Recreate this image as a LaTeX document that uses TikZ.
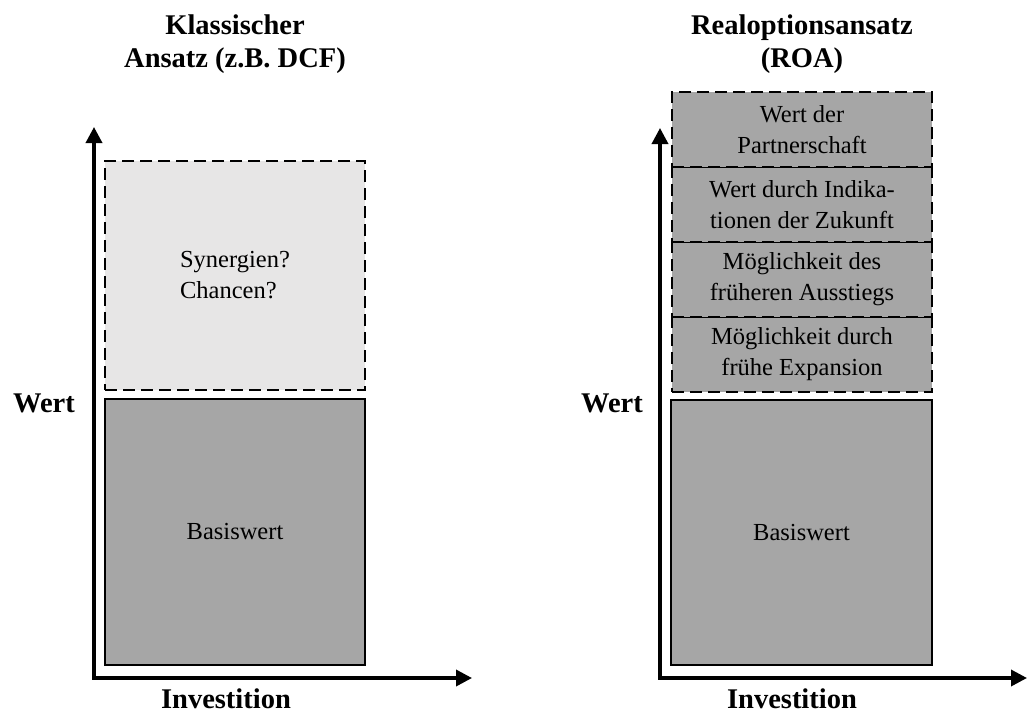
\documentclass[tikz,border=0pt]{standalone}
\usepackage{fontspec}
\setmainfont{Liberation Serif}
\usetikzlibrary{positioning, arrows.meta}
\definecolor{basisgrau}{HTML}{A6A6A6}
\definecolor{hellgrau}{HTML}{E7E6E6}

\begin{document}
\begin{tikzpicture}[%
        x=1pt, y=-1pt,
        every node/.style={inner sep=0pt, outer sep=0pt},
        wertbox/.style={rectangle, draw, line width=2.8pt, fill=basisgrau, minimum width=260pt,
            font=\fontsize{24.5}{31}\selectfont, align=center},
        optionbox/.style={wertbox, dash pattern=on 12pt off 6pt, minimum height=75pt},
        achse/.style={line width=3.5pt, {Triangle[length=16pt,width=16pt]}-{Triangle[length=16pt,width=16pt]}},
        beschriftung/.style={font=\fontsize{28.5}{33}\selectfont\bfseries, align=center}
    ]
    \useasboundingbox (0,0) rectangle (1029,715);

    % --- Klassischer Ansatz ---
    \coordinate (y1) at (94,127);
    \coordinate (o1) at (94,678);
    \coordinate (x1) at (472,678);
    \draw[achse] (y1) -- (o1) -- (x1);

    \node[wertbox, minimum height=266pt] (basis1) at (235,532) {Basiswert};
    \node[wertbox, dash pattern=on 12pt off 6pt, fill=hellgrau, minimum height=229pt, align=left]
        (syn) at (235,275.5) {Synergien?\\Chancen?};

    \node[beschriftung] (titel1) at (235,44) {Klassischer\\Ansatz (z.B. DCF)};
    \node[beschriftung, anchor=base] (wert1) at (44,412) {Wert};
    \node[beschriftung, anchor=base] (inv1) at (226,708) {Investition};

    % --- Realoptionsansatz ---
    \coordinate (y2) at (660,128);
    \coordinate (o2) at (660,678);
    \coordinate (x2) at (1027,678);
    \draw[achse] (y2) -- (o2) -- (x2);

    \node[wertbox, minimum width=261pt, minimum height=265pt] (basis2) at (801.5,532.5) {Basiswert};
    \node[optionbox] (exp) at (802,354.5) {Möglichkeit durch\\frühe Expansion};
    \node[optionbox, above=0pt of exp] (aus) {Möglichkeit des\\früheren Ausstiegs};
    \node[optionbox, above=0pt of aus] (ind) {Wert durch Indika-\\tionen der Zukunft};
    \node[optionbox, above=0pt of ind] (part) {Wert der\\Partnerschaft};

    \node[beschriftung] (titel2) at (802,44) {Realoptionsansatz\\(ROA)};
    \node[beschriftung, anchor=base] (wert2) at (612,412) {Wert};
    \node[beschriftung, anchor=base] (inv2) at (792,708) {Investition};
\end{tikzpicture}
\end{document}
